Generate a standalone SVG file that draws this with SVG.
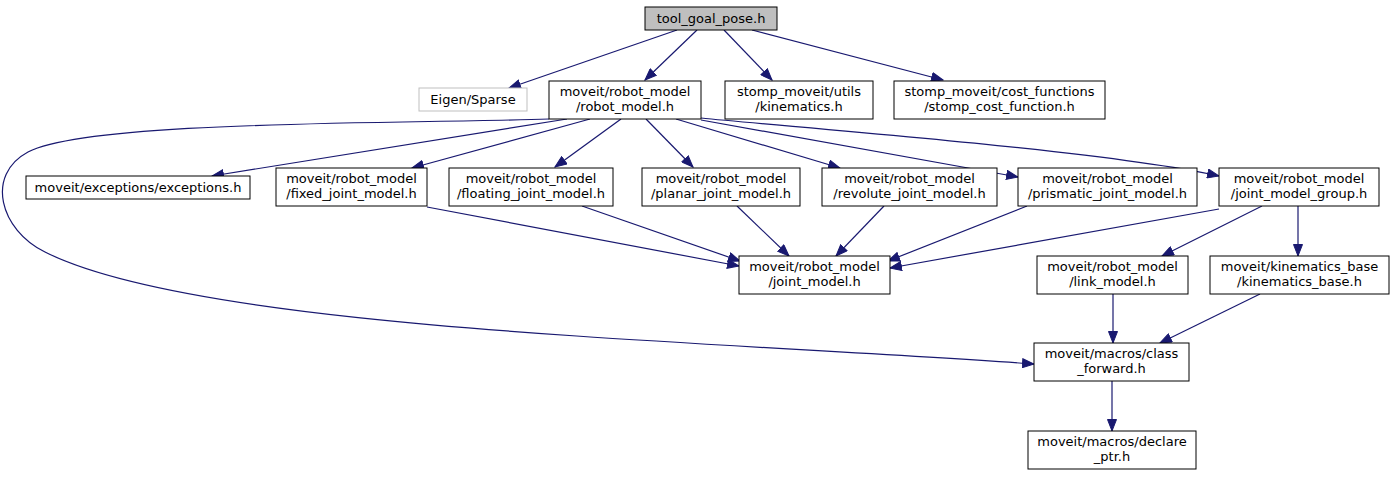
<svg xmlns="http://www.w3.org/2000/svg" width="1394" height="484" viewBox="0 0 1394 484">
<style>
.n rect{fill:#fff;stroke:#000;stroke-width:1}
.n text{font-family:"DejaVu Sans",sans-serif;font-size:13px;fill:#000;text-anchor:middle}
#tool rect{fill:#bfbfbf}
#eigen rect{stroke:#bfbfbf}
.e path{fill:none;stroke:#191970;stroke-width:1.2}
</style>
<defs>
<marker id="a" markerWidth="13" markerHeight="10" refX="12" refY="5" orient="auto" markerUnits="userSpaceOnUse">
<path d="M0.5,0.5 L12,5 L0.5,9.5 z" fill="#191970" stroke="#191970" stroke-width="1"/>
</marker>
</defs>
<rect width="1394" height="484" fill="#fff"/>
<g class="e">
<path marker-end="url(#a)" d="M677,30 L509,88"/>
<path marker-end="url(#a)" d="M697,30 L645,80"/>
<path marker-end="url(#a)" d="M724,30 L772,80"/>
<path marker-end="url(#a)" d="M752,30 L943,80"/>
<path marker-end="url(#a)" d="M567,119 L212,176"/>
<path marker-end="url(#a)" d="M590,119 L412,168"/>
<path marker-end="url(#a)" d="M621,119 L555,167"/>
<path marker-end="url(#a)" d="M646,119 L693,167"/>
<path marker-end="url(#a)" d="M676,119 L840,168"/>
<path marker-end="url(#a)" d="M701,120 L1018,177"/>
<path marker-end="url(#a)" d="M701,118 C800,128 1100,150 1219,176"/>
<path marker-end="url(#a)" d="M549,119 C400,124 90,120 28,152 C-15,175 0,230 45,252 C200,330 700,340 1034,364"/>
<path marker-end="url(#a)" d="M427,207 L739,266"/>
<path marker-end="url(#a)" d="M582,206 L740,261"/>
<path marker-end="url(#a)" d="M737,206 L789,256"/>
<path marker-end="url(#a)" d="M884,206 L836,256"/>
<path marker-end="url(#a)" d="M1027,206 L888,261"/>
<path marker-end="url(#a)" d="M1219,209 L890,268"/>
<path marker-end="url(#a)" d="M1262,206 L1162,256"/>
<path marker-end="url(#a)" d="M1298,206 L1298,256"/>
<path marker-end="url(#a)" d="M1113,294 L1113,343"/>
<path marker-end="url(#a)" d="M1260,294 L1160,343"/>
<path marker-end="url(#a)" d="M1112,381 L1112,431"/>
</g>
<g id="tool" class="n"><rect x="645" y="7" width="132" height="23"/><text x="711" y="23">tool_goal_pose.h</text></g>
<g id="eigen" class="n"><rect x="419" y="88" width="108" height="23"/><text x="473" y="104">Eigen/Sparse</text></g>
<g id="robot_model" class="n"><rect x="549" y="81" width="152" height="38"/><text x="625" y="96">moveit/robot_model</text><text x="625" y="111">/robot_model.h</text></g>
<g id="kinematics" class="n"><rect x="725" y="81" width="148" height="38"/><text x="799" y="96">stomp_moveit/utils</text><text x="799" y="111">/kinematics.h</text></g>
<g id="stomp_cost" class="n"><rect x="894" y="81" width="211" height="38"/><text x="999.5" y="96">stomp_moveit/cost_functions</text><text x="999.5" y="111">/stomp_cost_function.h</text></g>
<g id="exceptions" class="n"><rect x="26" y="176" width="224" height="23"/><text x="138" y="192">moveit/exceptions/exceptions.h</text></g>
<g id="fixed" class="n"><rect x="276" y="168" width="151" height="38"/><text x="351.5" y="183">moveit/robot_model</text><text x="351.5" y="198">/fixed_joint_model.h</text></g>
<g id="floating" class="n"><rect x="449" y="168" width="164" height="38"/><text x="531" y="183">moveit/robot_model</text><text x="531" y="198">/floating_joint_model.h</text></g>
<g id="planar" class="n"><rect x="642" y="168" width="158" height="38"/><text x="721" y="183">moveit/robot_model</text><text x="721" y="198">/planar_joint_model.h</text></g>
<g id="revolute" class="n"><rect x="822" y="168" width="175" height="38"/><text x="909.5" y="183">moveit/robot_model</text><text x="909.5" y="198">/revolute_joint_model.h</text></g>
<g id="prismatic" class="n"><rect x="1018" y="168" width="179" height="38"/><text x="1107.5" y="183">moveit/robot_model</text><text x="1107.5" y="198">/prismatic_joint_model.h</text></g>
<g id="jmg" class="n"><rect x="1219" y="168" width="160" height="38"/><text x="1299" y="183">moveit/robot_model</text><text x="1299" y="198">/joint_model_group.h</text></g>
<g id="joint_model" class="n"><rect x="739" y="256" width="151" height="38"/><text x="814.5" y="271">moveit/robot_model</text><text x="814.5" y="286">/joint_model.h</text></g>
<g id="link_model" class="n"><rect x="1037" y="256" width="151" height="38"/><text x="1112.5" y="271">moveit/robot_model</text><text x="1112.5" y="286">/link_model.h</text></g>
<g id="kinematics_base" class="n"><rect x="1210" y="256" width="179" height="38"/><text x="1299.5" y="271">moveit/kinematics_base</text><text x="1299.5" y="286">/kinematics_base.h</text></g>
<g id="class_forward" class="n"><rect x="1034" y="343" width="155" height="38"/><text x="1111.5" y="358">moveit/macros/class</text><text x="1111.5" y="373">_forward.h</text></g>
<g id="declare_ptr" class="n"><rect x="1028" y="431" width="168" height="38"/><text x="1112" y="446">moveit/macros/declare</text><text x="1112" y="461">_ptr.h</text></g>
</svg>
